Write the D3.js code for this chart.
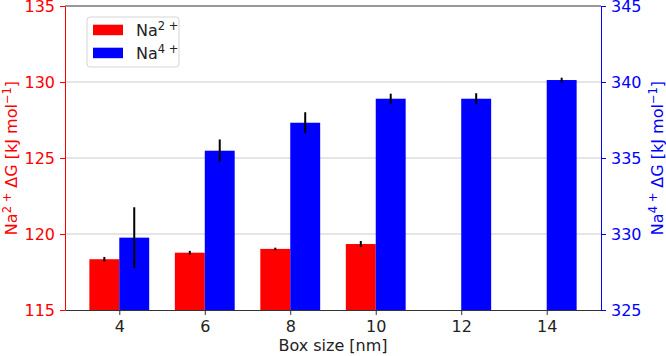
<!DOCTYPE html>
<html>
<head>
<meta charset="utf-8">
<script src="https://cdn.jsdelivr.net/npm/d3@7"></script>
<style>
  body { margin: 0; background: #fff; }
  svg text { font-family: "DejaVu Sans", sans-serif; }
</style>
</head>
<body>
<div class="chart"></div>
<script>
// box sizes (nm)
var boxSizes = [4, 6, 8, 10, 12, 14];
// Na2+ free energy, left axis
var na2Values = [118.34, 118.77, 119.02, 119.34];
var na2Errors = [0.15, 0.12, 0.08, 0.2];
// Na4+ free energy, right axis
var na4Values = [329.76, 335.48, 337.32, 338.9, 338.9, 340.13];
var na4Errors = [2.0, 0.74, 0.69, 0.33, 0.36, 0.15];
var leftTicks = [115, 120, 125, 130, 135];
var rightTicks = [325, 330, 335, 340, 345];

var width = 666, height = 356;
var margin = {left: 65, right: 65, top: 6, bottom: 46};
var barW = 0.7;
var fs = 16, supFs = 11.5;

var svg = d3.select(".chart").append("svg")
    .attr("width", width)
    .attr("height", height);

var x = d3.scaleLinear()
    .domain([2.73, 15.27])
    .range([margin.left, width - margin.right]);
var yL = d3.scaleLinear().domain([115, 135]).range([height - margin.bottom, margin.top]);
var yR = d3.scaleLinear().domain([325, 345]).range([height - margin.bottom, margin.top]);

// grid lines
svg.append("g").selectAll("line")
    .data(leftTicks.slice(1, -1))
    .enter().append("line")
    .attr("x1", x.range()[0]).attr("x2", x.range()[1])
    .attr("y1", d => yL(d)).attr("y2", d => yL(d))
    .attr("stroke", "#cccccc").attr("stroke-width", 1.2);

// Na2+ bars
var red = svg.append("g");
red.selectAll("rect")
    .data(na2Values)
    .enter().append("rect")
    .attr("x", (d, i) => x(boxSizes[i] - barW))
    .attr("width", (d, i) => x(boxSizes[i]) - x(boxSizes[i] - barW))
    .attr("y", d => yL(d))
    .attr("height", d => yL(115) - yL(d))
    .attr("fill", "#ff0000");
red.selectAll("line")
    .data(na2Values)
    .enter().append("line")
    .attr("x1", (d, i) => x(boxSizes[i] - barW / 2))
    .attr("x2", (d, i) => x(boxSizes[i] - barW / 2))
    .attr("y1", (d, i) => yL(d - na2Errors[i]))
    .attr("y2", (d, i) => yL(d + na2Errors[i]))
    .attr("stroke", "#000").attr("stroke-width", 2);

// Na4+ bars
var blue = svg.append("g");
blue.selectAll("rect")
    .data(na4Values)
    .enter().append("rect")
    .attr("x", (d, i) => x(boxSizes[i]))
    .attr("width", (d, i) => x(boxSizes[i] + barW) - x(boxSizes[i]))
    .attr("y", d => yR(d))
    .attr("height", d => yR(325) - yR(d))
    .attr("fill", "#0000ff");
blue.selectAll("line")
    .data(na4Values)
    .enter().append("line")
    .attr("x1", (d, i) => x(boxSizes[i] + barW / 2))
    .attr("x2", (d, i) => x(boxSizes[i] + barW / 2))
    .attr("y1", (d, i) => yR(d - na4Errors[i]))
    .attr("y2", (d, i) => yR(d + na4Errors[i]))
    .attr("stroke", "#000").attr("stroke-width", 2);

// top spine
svg.append("line")
    .attr("x1", x.range()[0]).attr("x2", x.range()[1])
    .attr("y1", margin.top).attr("y2", margin.top)
    .attr("stroke", "#333").attr("stroke-width", 1.2);

var xAxis = svg.append("g")
    .attr("transform", "translate(0," + (height - margin.bottom) + ")")
    .call(d3.axisBottom(x).tickValues(boxSizes).tickSize(5).tickPadding(6).tickSizeOuter(0));
xAxis.select(".domain").attr("stroke", "#333").attr("stroke-width", 1.2);
xAxis.selectAll(".tick line").attr("stroke", "#333");
xAxis.selectAll("text").attr("font-size", fs).attr("fill", "#222");

var leftAxis = svg.append("g")
    .attr("transform", "translate(" + margin.left + ",0)")
    .call(d3.axisLeft(yL).tickValues(leftTicks).tickSize(5).tickPadding(5).tickSizeOuter(0));
leftAxis.select(".domain").attr("stroke", "#ff0000");
leftAxis.selectAll(".tick line").attr("stroke", "#ff0000");
leftAxis.selectAll("text").attr("font-size", fs).attr("fill", "#ff0000");

var rightAxis = svg.append("g")
    .attr("transform", "translate(" + (width - margin.right) + ",0)")
    .call(d3.axisRight(yR).tickValues(rightTicks).tickSize(5).tickPadding(5).tickSizeOuter(0));
rightAxis.select(".domain").attr("stroke", "#0000ff");
rightAxis.selectAll(".tick line").attr("stroke", "#0000ff");
rightAxis.selectAll("text").attr("font-size", fs).attr("fill", "#0000ff");

// axis labels
svg.append("text")
    .attr("x", (x.range()[0] + x.range()[1]) / 2)
    .attr("y", 351)
    .attr("text-anchor", "middle")
    .attr("font-size", fs)
    .attr("fill", "#222")
    .text("Box size [nm]");

function ionLabel(sel, charge) {
    sel.append("tspan").text("Na");
    sel.append("tspan").attr("dy", -6).attr("font-size", supFs).text(charge + " +");
    sel.append("tspan").attr("dy", 6).text(" \u0394G [kJ mol");
    sel.append("tspan").attr("dy", -6).attr("font-size", supFs).text("\u22121");
    sel.append("tspan").attr("dy", 6).text("]");
}

var midY = (margin.top + height - margin.bottom) / 2;
svg.append("text")
    .attr("transform", "translate(16.5," + midY + ") rotate(-90)")
    .attr("text-anchor", "middle")
    .attr("font-size", fs)
    .attr("fill", "#ff0000")
    .call(ionLabel, "2");
svg.append("text")
    .attr("transform", "translate(663," + midY + ") rotate(-90)")
    .attr("text-anchor", "middle")
    .attr("font-size", fs)
    .attr("fill", "#0000ff")
    .call(ionLabel, "4");

// legend
var legend = svg.append("g").attr("transform", "translate(87,17)");
legend.append("rect")
    .attr("width", 92).attr("height", 50)
    .attr("rx", 3)
    .attr("fill", "#fff").attr("fill-opacity", 0.8)
    .attr("stroke", "#d5d5d5");
var legendItems = [{color: "#ff0000", charge: "2"}, {color: "#0000ff", charge: "4"}];
var li = legend.selectAll(".item")
    .data(legendItems)
    .enter().append("g")
    .attr("class", "item")
    .attr("transform", (d, i) => "translate(6," + (7.7 + i * 23) + ")");
li.append("rect")
    .attr("width", 30).attr("height", 10.5)
    .attr("fill", d => d.color);
li.append("text")
    .attr("x", 43).attr("y", 11.5)
    .attr("font-size", fs)
    .attr("fill", "#222")
    .each(function(d) {
        var t = d3.select(this);
        t.append("tspan").text("Na");
        t.append("tspan").attr("dy", -6).attr("font-size", supFs).text(d.charge + " +");
    });
</script>
</body>
</html>
